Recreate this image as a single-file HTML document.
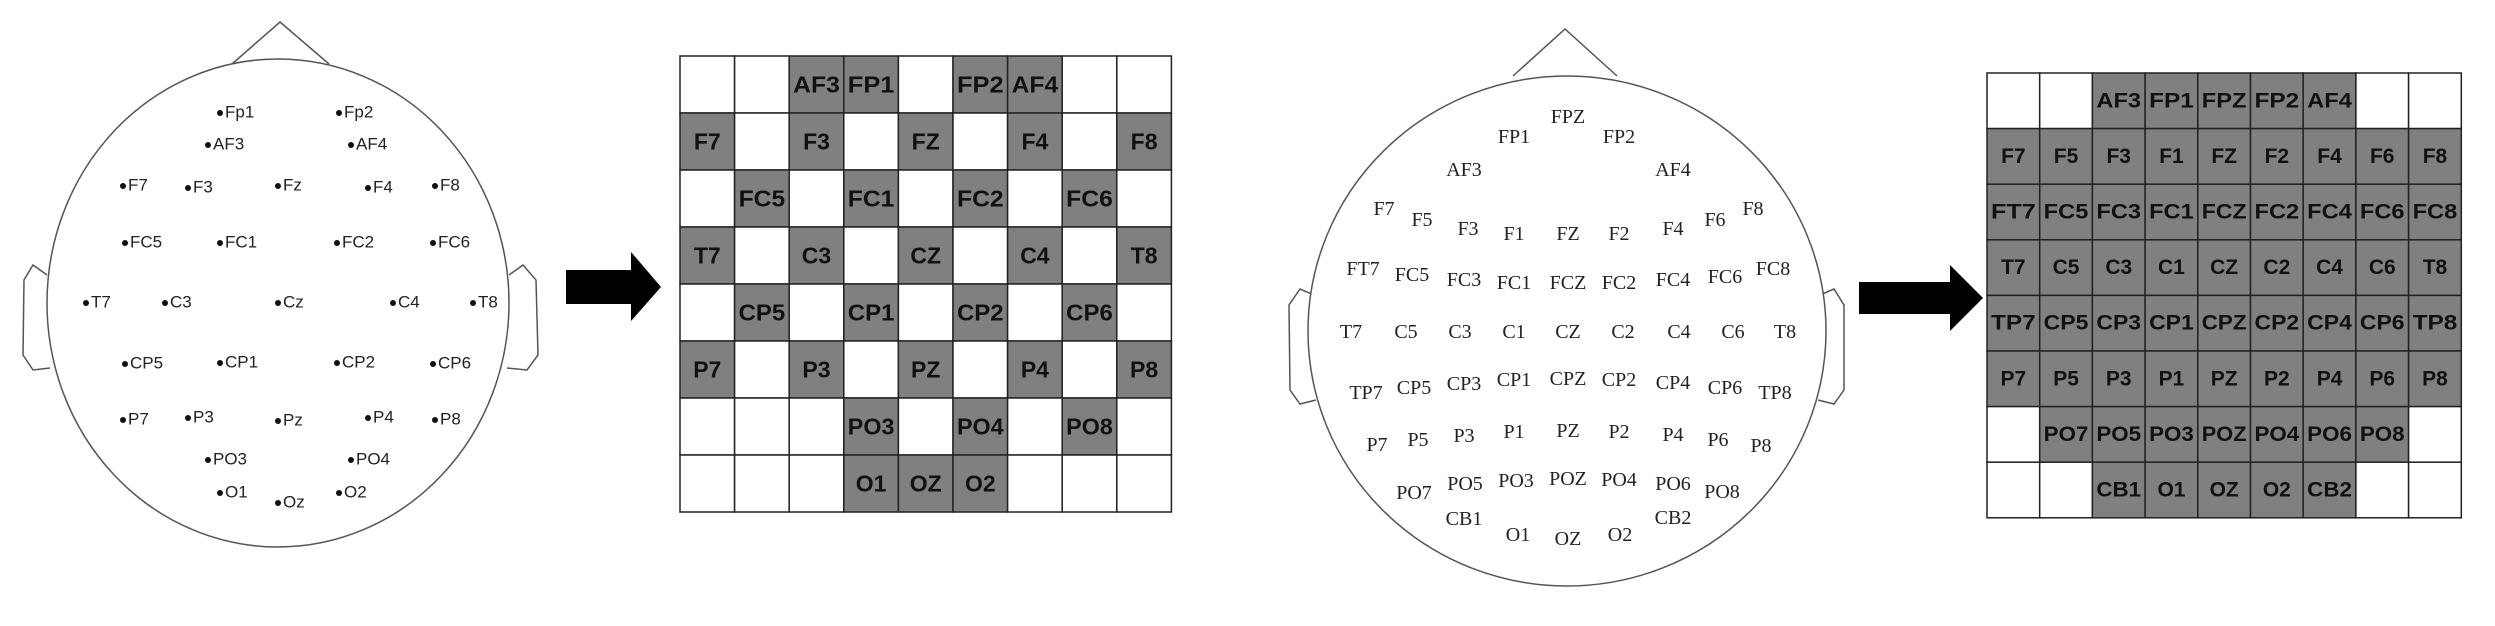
<!DOCTYPE html>
<html><head><meta charset="utf-8"><style>
html,body{margin:0;padding:0;background:#fff;}
svg{display:block;}
.h1 text{font-family:"Liberation Sans",sans-serif;font-size:17px;fill:#222;dominant-baseline:central;}
.h2 text{font-family:"Liberation Serif",serif;font-size:20px;fill:#222;text-anchor:middle;dominant-baseline:central;}
.g text{font-family:"Liberation Sans Narrow","Liberation Sans",sans-serif;font-weight:bold;font-size:23px;fill:#111;text-anchor:middle;dominant-baseline:central;}
#g2 text{font-size:21px;}
</style></head><body>
<svg width="2495" height="626" viewBox="0 0 2495 626" xmlns="http://www.w3.org/2000/svg">
<g fill="none" stroke="#555" stroke-width="1.5">
<path d="M232 64 L280 22 L329 64"/>
<path d="M47 275 L33 265 L24 280 L23 355 L33 370 L50 368"/>
<path d="M509 275 L523 265 L536 280 L538 355 L527 370 L507 368"/>
<ellipse cx="278" cy="303" rx="231" ry="244" fill="#fff"/>
</g>
<g class="h1" id="h1"></g>
<path d="M566 270 H631 V252 L661 287 L631 321 V304 H566 Z" fill="#000"/>
<g class="g" id="g1"></g>
<g fill="none" stroke="#555" stroke-width="1.5">
<path d="M1513 76 L1565 29 L1617 76"/>
<path d="M1314 295 L1300 289 L1289 305 L1290 390 L1300 404 L1316 400"/>
<path d="M1820 295 L1834 289 L1844 305 L1844 390 L1834 404 L1818 400"/>
<ellipse cx="1567" cy="331" rx="259" ry="255" fill="#fff"/>
</g>
<g class="h2" id="h2"></g>
<path d="M1859 282 H1950 V265 L1983 298 L1950 331 V314 H1859 Z" fill="#000"/>
<g class="g" id="g2"></g>
<script>
var NS="http://www.w3.org/2000/svg";
function t(p,x,y,s,a){var e=document.createElementNS(NS,"text");e.setAttribute("x",x);e.setAttribute("y",y);if(a)e.setAttribute("text-anchor",a);e.textContent=s;p.appendChild(e);return e;}
var h1=document.getElementById("h1");
[["Fp1",220,112],["Fp2",339,112],["AF3",208,144],["AF4",351,144],["F7",123,185],["F3",188,187],["Fz",278,185],["F4",368,187],["F8",435,185],
["FC5",125,242],["FC1",220,242],["FC2",337,242],["FC6",433,242],["T7",86,302],["C3",165,302],["Cz",278,302],["C4",393,302],["T8",473,302],
["CP5",125,363],["CP1",220,362],["CP2",337,362],["CP6",433,363],["P7",123,419],["P3",188,417],["Pz",278,420],["P4",368,417],["P8",435,419],
["PO3",208,459],["PO4",351,459],["O1",220,492],["Oz",278,502],["O2",339,492]].forEach(function(d){
var c=document.createElementNS(NS,"circle");c.setAttribute("cx",d[1]);c.setAttribute("cy",d[2]+1);c.setAttribute("r",3);c.setAttribute("fill","#111");h1.appendChild(c);
t(h1,d[1]+5,d[2],d[0]);});
var h2=document.getElementById("h2");
[["FPZ",1571,117],["FP1",1517,137],["FP2",1622,137],["AF3",1467,170],["AF4",1676,170],
["F7",1387,209],["F5",1425,220],["F3",1471,229],["F1",1517,234],["FZ",1571,234],["F2",1622,234],["F4",1676,229],["F6",1718,220],["F8",1756,209],
["FT7",1366,269],["FC5",1415,275],["FC3",1467,280],["FC1",1517,283],["FCZ",1571,283],["FC2",1622,283],["FC4",1676,280],["FC6",1728,277],["FC8",1776,269],
["T7",1354,332],["C5",1409,332],["C3",1463,332],["C1",1517,332],["CZ",1571,332],["C2",1626,332],["C4",1682,332],["C6",1736,332],["T8",1788,332],
["TP7",1369,393],["CP5",1417,388],["CP3",1467,384],["CP1",1517,380],["CPZ",1571,379],["CP2",1622,380],["CP4",1676,383],["CP6",1728,388],["TP8",1778,393],
["P7",1380,445],["P5",1421,440],["P3",1467,436],["P1",1517,432],["PZ",1571,431],["P2",1622,432],["P4",1676,435],["P6",1721,440],["P8",1764,446],
["PO7",1417,493],["PO5",1468,484],["PO3",1519,481],["POZ",1571,479],["PO4",1622,480],["PO6",1676,484],["PO8",1725,492],
["CB1",1467,519],["CB2",1676,518],["O1",1521,535],["OZ",1571,539],["O2",1623,535]].forEach(function(d){t(h2,d[1]-3,d[2],d[0]);});
function grid(id,x0,y0,cw,rh,rows){var g=document.getElementById(id);
rows.forEach(function(r,i){r.split(",").forEach(function(s,j){
var x=x0+j*cw,y=y0+i*rh;var rc=document.createElementNS(NS,"rect");
rc.setAttribute("x",x);rc.setAttribute("y",y);rc.setAttribute("width",cw);rc.setAttribute("height",rh);
rc.setAttribute("fill",s?"#808080":"#fff");rc.setAttribute("stroke","#222");rc.setAttribute("stroke-width","1.5");g.appendChild(rc);
});});
rows.forEach(function(r,i){r.split(",").forEach(function(s,j){if(s){var e=t(g,x0+j*cw+cw/2,y0+i*rh+rh/2,s);if(s.length>2){e.setAttribute("textLength",cw-8);e.setAttribute("lengthAdjust","spacingAndGlyphs");}}});});}
grid("g1",680,56,54.6,57,[",,AF3,FP1,,FP2,AF4,,","F7,,F3,,FZ,,F4,,F8",",FC5,,FC1,,FC2,,FC6,","T7,,C3,,CZ,,C4,,T8",",CP5,,CP1,,CP2,,CP6,","P7,,P3,,PZ,,P4,,P8",",,,PO3,,PO4,,PO8,",",,,O1,OZ,O2,,,"]);
grid("g2",1987,73,52.7,55.6,[",,AF3,FP1,FPZ,FP2,AF4,,","F7,F5,F3,F1,FZ,F2,F4,F6,F8","FT7,FC5,FC3,FC1,FCZ,FC2,FC4,FC6,FC8","T7,C5,C3,C1,CZ,C2,C4,C6,T8","TP7,CP5,CP3,CP1,CPZ,CP2,CP4,CP6,TP8","P7,P5,P3,P1,PZ,P2,P4,P6,P8",",PO7,PO5,PO3,POZ,PO4,PO6,PO8,",",,CB1,O1,OZ,O2,CB2,,"]);
</script>
</svg>
</body></html>
